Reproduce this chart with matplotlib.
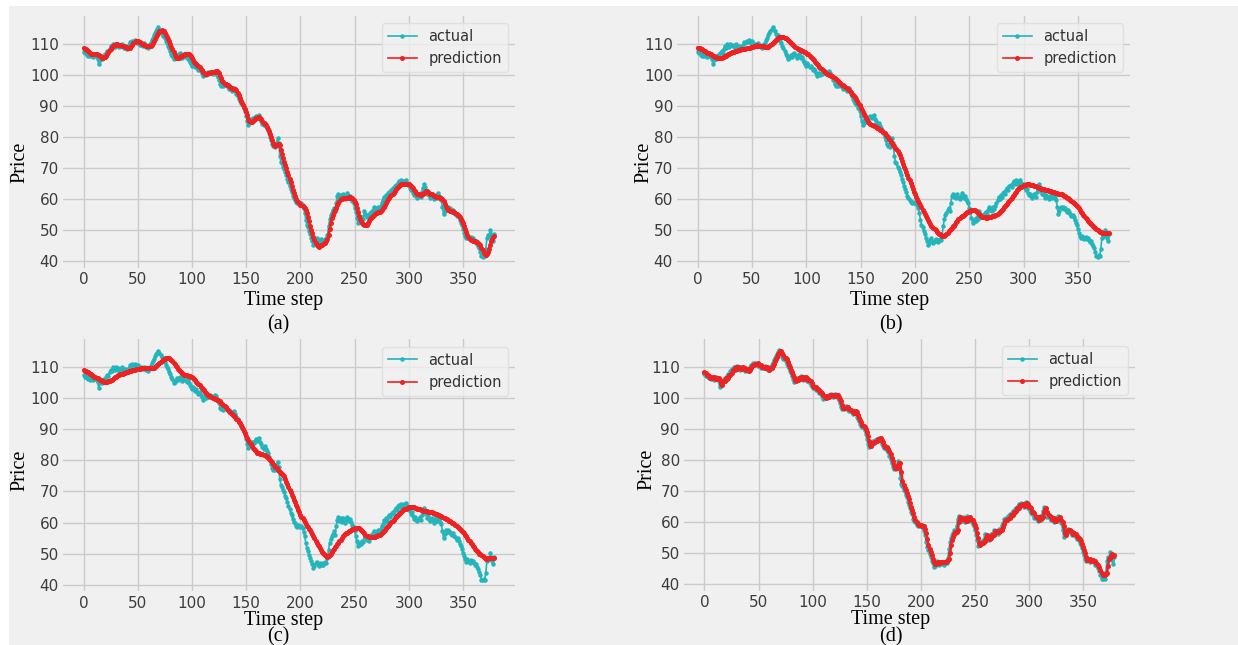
import numpy as np
import matplotlib.pyplot as plt
from matplotlib.patches import Rectangle
from matplotlib import font_manager

# Исходные данные: фактическая цена и прогнозы четырёх моделей
actual = [
    107.5, 107.0, 107.3, 106.5, 106.2, 106.8, 106.0, 106.4, 106.6, 105.8,
    106.2, 106.5, 105.9, 105.2, 103.4, 104.8, 105.5, 105.0, 106.0, 106.3,
    105.8, 107.0, 107.6, 107.2, 108.5, 109.2, 108.7, 110.0, 109.6, 109.0,
    110.1, 109.5, 109.8, 108.9, 109.6, 110.0, 109.2, 108.7, 109.3, 108.8,
    108.5, 109.2, 109.8, 110.6, 110.2, 111.0, 110.5, 111.2, 110.8, 110.3,
    110.9, 110.2, 109.6, 110.1, 109.7, 109.4, 110.2, 109.6, 109.1, 108.8,
    109.5, 109.9, 110.4, 111.3, 112.0, 112.8, 113.5, 114.2, 114.7, 115.3,
    114.6, 114.0, 113.2, 112.5, 112.9, 111.8, 110.9, 110.2, 109.4, 108.6,
    107.8, 106.9, 106.1, 105.0, 105.4, 105.9, 106.4, 105.8, 106.6, 107.0,
    106.3, 105.6, 106.2, 106.8, 106.0, 105.3, 105.8, 104.9, 104.2, 103.6,
    103.0, 103.8, 103.1, 102.4, 102.9, 102.2, 101.5, 102.0, 101.2, 100.5,
    99.6, 100.2, 100.6, 100.0, 100.4, 100.9, 100.5, 101.1, 100.6, 100.2,
    100.8, 101.2, 100.7, 99.9, 99.2, 98.4, 97.0, 96.5, 96.9, 96.4,
    96.8, 97.2, 96.6, 96.1, 95.6, 96.0, 95.4, 94.8, 95.3, 95.8,
    94.9, 93.9, 93.2, 92.4, 91.6, 91.0, 90.6, 90.2, 89.5, 88.4,
    86.8, 85.2, 84.0, 84.6, 85.8, 85.2, 86.0, 85.5, 86.3, 86.8,
    86.2, 86.9, 87.1, 85.9, 85.2, 84.3, 83.8, 84.5, 83.6, 83.0,
    82.4, 81.2, 80.1, 78.9, 77.6, 77.0, 77.4, 76.9, 78.2, 79.6,
    78.0, 74.0, 72.1, 71.5, 70.4, 69.8, 68.6, 67.9, 66.5, 65.4,
    64.3, 63.2, 62.4, 61.0, 60.2, 59.8, 59.0, 58.7, 59.2, 58.8,
    58.6, 58.9, 58.1, 57.0, 55.6, 53.4, 51.8, 50.9, 49.6, 48.7,
    47.5, 46.6, 45.3, 45.9, 46.8, 47.4, 46.5, 46.0, 46.6, 47.1,
    46.4, 46.2, 46.9, 47.3, 46.8, 48.5, 51.2, 53.5, 54.8, 55.6,
    56.4, 57.2, 56.1, 58.8, 60.9, 61.8, 60.6, 61.3, 60.2, 61.6,
    60.8, 59.9, 60.7, 61.9, 61.2, 60.4, 61.0, 60.1, 59.3, 58.6,
    57.2, 55.8, 54.0, 52.3, 52.8, 53.5, 53.0, 54.2, 53.6, 56.2,
    55.1, 54.3, 55.0, 54.1, 55.4, 56.0, 55.2, 56.5, 57.3, 56.4,
    57.0, 56.2, 57.6, 56.9, 57.8, 58.9, 59.6, 60.8, 60.1, 61.3,
    60.6, 61.9, 62.4, 61.7, 62.9, 63.5, 62.8, 64.1, 64.6, 63.9,
    65.2, 65.8, 65.0, 66.1, 65.4, 64.8, 65.9, 66.3, 65.2, 64.4,
    64.9, 63.6, 62.8, 63.4, 62.1, 61.2, 61.8, 60.9, 60.4, 61.1,
    61.8, 60.7, 62.3, 63.6, 64.8, 63.9, 62.6, 61.5, 62.0, 61.2,
    60.5, 61.4, 60.8, 59.9, 60.6, 61.3, 60.4, 61.9, 61.0, 60.2,
    59.6, 57.4, 55.1, 56.2, 57.5, 57.0, 57.6, 56.8, 57.1, 56.4,
    55.9, 56.6, 55.8, 55.2, 54.5, 55.0, 54.1, 53.2, 52.4, 51.6,
    50.3, 49.2, 48.1, 47.4, 48.2, 47.6, 47.1, 47.8, 47.3, 47.6,
    46.9, 46.2, 46.6, 45.7, 45.0, 44.1, 43.0, 41.6, 41.5, 41.9,
    41.6, 43.8, 47.5, 48.6, 48.1, 50.2, 48.9, 47.6, 46.5, 48.8,
]

pred_a = [
    108.7, 108.5, 108.2, 107.9, 107.6, 107.3, 107.0, 106.8, 106.7, 106.7,
    106.7, 106.6, 106.6, 106.5, 106.3, 106.0, 105.7, 105.6, 105.6, 105.7,
    105.9, 106.2, 106.7, 107.3, 107.9, 108.5, 109.0, 109.4, 109.7, 109.8,
    109.9, 109.9, 109.8, 109.7, 109.5, 109.4, 109.4, 109.3, 109.1, 108.9,
    108.7, 108.6, 108.6, 108.8, 109.3, 109.8, 110.3, 110.6, 110.8, 110.8,
    110.8, 110.7, 110.5, 110.2, 110.0, 109.9, 109.8, 109.6, 109.4, 109.3,
    109.2, 109.2, 109.4, 109.8, 110.3, 110.9, 111.6, 112.3, 113.0, 113.6,
    114.0, 114.3, 114.4, 114.3, 114.0, 113.6, 113.0, 112.3, 111.5, 110.8,
    110.0, 109.1, 108.2, 107.3, 106.5, 105.9, 105.5, 105.4, 105.5, 105.7,
    106.0, 106.2, 106.3, 106.4, 106.6, 106.8, 106.9, 106.8, 106.5, 106.0,
    105.4, 104.8, 104.3, 103.9, 103.6, 103.2, 102.8, 102.4, 102.0, 101.6,
    101.1, 100.6, 100.3, 100.3, 100.4, 100.5, 100.6, 100.7, 100.8, 100.9,
    101.0, 101.1, 101.2, 101.2, 101.0, 100.5, 99.8, 99.0, 98.2, 97.6,
    97.2, 97.0, 96.8, 96.7, 96.5, 96.2, 95.9, 95.7, 95.6, 95.5,
    95.4, 95.0, 94.3, 93.4, 92.5, 91.7, 91.0, 90.4, 89.7, 88.9,
    88.0, 87.0, 85.9, 85.1, 84.8, 84.9, 85.2, 85.5, 85.7, 86.0,
    86.2, 86.3, 86.3, 86.1, 85.7, 85.1, 84.5, 84.1, 83.8, 83.3,
    82.6, 81.8, 80.9, 80.0, 79.0, 78.0, 77.4, 77.2, 77.3, 77.6,
    77.8, 77.3, 75.9, 74.4, 73.2, 72.1, 71.0, 69.9, 68.8, 67.7,
    66.6, 65.4, 64.2, 63.0, 61.9, 60.9, 60.1, 59.5, 59.0, 58.6,
    58.2, 58.0, 57.8, 57.6, 57.2, 56.5, 55.4, 54.1, 52.8, 51.4,
    50.2, 49.0, 47.8, 46.7, 45.8, 45.1, 44.8, 44.7, 44.9, 45.1,
    45.3, 45.5, 45.8, 46.0, 46.5, 47.2, 48.5, 50.4, 52.3, 53.8,
    54.9, 55.8, 56.5, 57.2, 58.0, 58.8, 59.5, 59.9, 60.1, 60.3,
    60.4, 60.4, 60.3, 60.4, 60.5, 60.6, 60.6, 60.5, 60.2, 59.8,
    59.2, 58.3, 57.2, 56.0, 54.7, 53.6, 52.8, 52.4, 52.1, 51.8,
    51.6, 51.8, 52.4, 53.0, 53.6, 54.0, 54.3, 54.6, 54.9, 55.2,
    55.4, 55.6, 55.8, 56.0, 56.3, 56.6, 57.0, 57.5, 58.1, 58.7,
    59.3, 59.9, 60.4, 60.9, 61.3, 61.7, 62.1, 62.6, 63.1, 63.5,
    63.9, 64.3, 64.6, 64.8, 64.9, 64.9, 64.9, 65.0, 65.0, 64.9,
    64.8, 64.6, 64.3, 63.9, 63.5, 63.0, 62.5, 62.0, 61.7, 61.5,
    61.4, 61.4, 61.5, 61.7, 62.0, 62.4, 62.6, 62.6, 62.4, 62.1,
    61.8, 61.5, 61.3, 61.1, 60.9, 60.8, 60.7, 60.6, 60.6, 60.4,
    60.2, 60.0, 59.4, 58.4, 57.6, 57.0, 56.6, 56.4, 56.3, 56.2,
    56.1, 56.0, 55.8, 55.6, 55.3, 55.0, 54.6, 54.2, 53.7, 53.1,
    52.4, 51.5, 50.4, 49.3, 48.5, 47.9, 47.3, 46.9, 46.7, 46.6,
    46.5, 46.4, 46.3, 46.1, 45.9, 45.6, 45.1, 44.3, 43.5, 42.8,
    42.3, 42.1, 42.2, 42.9, 44.0, 45.3, 46.4, 47.2, 47.8, 48.1,
]

pred_b = [
    108.8, 108.7, 108.6, 108.4, 108.2, 108.0, 107.8, 107.6, 107.4, 107.2,
    107.0, 106.8, 106.6, 106.4, 106.2, 106.0, 105.9, 105.7, 105.6, 105.5,
    105.4, 105.5, 105.6, 105.7, 105.9, 106.0, 106.2, 106.4, 106.6, 106.8,
    107.0, 107.2, 107.3, 107.5, 107.6, 107.7, 107.8, 107.9, 108.0, 108.1,
    108.2, 108.3, 108.3, 108.4, 108.5, 108.6, 108.6, 108.7, 108.8, 108.9,
    109.0, 109.1, 109.2, 109.3, 109.4, 109.5, 109.4, 109.4, 109.3, 109.3,
    109.2, 109.2, 109.1, 109.1, 109.0, 109.1, 109.3, 109.6, 109.9, 110.2,
    110.6, 111.0, 111.4, 111.7, 112.0, 112.2, 112.3, 112.3, 112.3, 112.2,
    112.0, 111.8, 111.5, 111.2, 110.9, 110.6, 110.3, 110.0, 109.7, 109.4,
    109.1, 108.8, 108.5, 108.3, 108.1, 107.9, 107.8, 107.6, 107.5, 107.4,
    107.2, 106.9, 106.6, 106.2, 105.9, 105.5, 105.1, 104.7, 104.3, 103.9,
    103.5, 103.1, 102.7, 102.3, 101.9, 101.5, 101.2, 100.9, 100.7, 100.4,
    100.2, 100.0, 99.9, 99.7, 99.5, 99.3, 99.0, 98.7, 98.4, 98.1,
    97.8, 97.5, 97.2, 96.9, 96.6, 96.3, 96.0, 95.7, 95.4, 95.1,
    94.8, 94.4, 94.0, 93.6, 93.2, 92.8, 92.2, 91.6, 91.0, 90.3,
    89.5, 88.8, 88.1, 87.4, 86.7, 86.0, 85.5, 85.0, 84.6, 84.3,
    84.0, 83.8, 83.6, 83.4, 83.2, 83.0, 82.8, 82.6, 82.4, 82.2,
    82.0, 81.6, 81.2, 80.8, 80.4, 80.0, 79.5, 79.0, 78.5, 78.0,
    77.5, 77.0, 76.5, 76.0, 75.5, 75.0, 74.1, 73.2, 72.3, 71.4,
    70.5, 69.6, 68.7, 67.8, 66.9, 66.0, 65.1, 64.2, 63.3, 62.4,
    61.5, 60.8, 60.1, 59.4, 58.7, 58.0, 57.3, 56.6, 55.9, 55.2,
    54.5, 53.9, 53.3, 52.7, 52.1, 51.5, 51.1, 50.7, 50.3, 49.9,
    49.5, 49.2, 48.9, 48.7, 48.4, 48.2, 48.1, 48.2, 48.5, 48.8,
    49.2, 49.6, 50.0, 50.4, 50.8, 51.2, 51.5, 52.0, 52.5, 53.0,
    53.5, 53.8, 54.1, 54.4, 54.7, 55.0, 55.3, 55.5, 55.8, 56.0,
    56.2, 56.3, 56.4, 56.5, 56.5, 56.4, 56.2, 55.9, 55.5, 55.1,
    54.8, 54.5, 54.3, 54.2, 54.1, 54.0, 54.0, 54.1, 54.1, 54.2,
    54.3, 54.4, 54.5, 54.7, 54.8, 55.0, 55.3, 55.6, 55.9, 56.2,
    56.5, 56.9, 57.3, 57.7, 58.1, 58.5, 59.0, 59.5, 60.0, 60.5,
    61.0, 61.4, 61.9, 62.3, 62.8, 63.2, 63.5, 63.8, 64.0, 64.3,
    64.5, 64.6, 64.7, 64.8, 64.8, 64.8, 64.7, 64.6, 64.5, 64.4,
    64.3, 64.1, 64.0, 63.8, 63.7, 63.5, 63.4, 63.3, 63.2, 63.1,
    63.0, 62.9, 62.8, 62.7, 62.6, 62.5, 62.4, 62.3, 62.2, 62.1,
    62.0, 61.9, 61.8, 61.7, 61.6, 61.5, 61.3, 61.1, 60.9, 60.7,
    60.5, 60.2, 59.9, 59.6, 59.3, 59.0, 58.7, 58.4, 58.1, 57.8,
    57.5, 57.0, 56.5, 56.0, 55.5, 55.0, 54.5, 54.0, 53.5, 53.0,
    52.5, 52.2, 51.9, 51.6, 51.3, 51.0, 50.7, 50.4, 50.1, 49.8,
    49.5, 49.3, 49.1, 49.0, 49.0, 49.0, 49.0, 49.0, 49.0, 49.0,
]

pred_c = [
    109.1, 108.9, 108.8, 108.6, 108.4, 108.2, 108.0, 107.7, 107.5, 107.2,
    107.0, 106.8, 106.6, 106.4, 106.2, 106.0, 105.8, 105.6, 105.5, 105.4,
    105.3, 105.3, 105.4, 105.5, 105.6, 105.8, 106.0, 106.3, 106.5, 106.8,
    107.0, 107.2, 107.4, 107.6, 107.7, 107.9, 108.0, 108.2, 108.3, 108.4,
    108.5, 108.6, 108.7, 108.8, 108.9, 109.0, 109.1, 109.2, 109.3, 109.4,
    109.5, 109.6, 109.6, 109.7, 109.7, 109.8, 109.8, 109.8, 109.8, 109.8,
    109.8, 109.7, 109.7, 109.7, 109.7, 109.7, 110.0, 110.4, 110.8, 111.1,
    111.5, 111.8, 112.1, 112.4, 112.6, 112.8, 112.9, 113.0, 113.0, 112.9,
    112.6, 112.3, 112.0, 111.5, 111.0, 110.5, 110.0, 109.5, 109.1, 108.8,
    108.4, 108.1, 107.8, 107.6, 107.5, 107.4, 107.3, 107.2, 107.1, 107.0,
    107.0, 106.6, 106.2, 105.8, 105.4, 105.0, 104.6, 104.2, 103.8, 103.4,
    103.0, 102.6, 102.2, 101.8, 101.4, 101.0, 100.8, 100.6, 100.4, 100.2,
    100.0, 99.9, 99.8, 99.6, 99.5, 99.3, 99.0, 98.6, 98.3, 97.9,
    97.5, 97.1, 96.7, 96.3, 95.9, 95.5, 95.2, 94.9, 94.6, 94.3,
    94.0, 93.5, 93.0, 92.5, 92.0, 91.5, 90.8, 90.1, 89.4, 88.7,
    88.0, 87.3, 86.6, 85.9, 85.2, 84.5, 84.1, 83.7, 83.3, 82.9,
    82.5, 82.4, 82.3, 82.2, 82.1, 82.0, 81.8, 81.6, 81.4, 81.2,
    81.0, 80.6, 80.2, 79.8, 79.4, 79.0, 78.5, 78.0, 77.5, 77.0,
    76.5, 76.2, 75.9, 75.6, 75.3, 75.0, 74.1, 73.2, 72.3, 71.4,
    70.5, 69.7, 68.9, 68.1, 67.3, 66.5, 65.7, 64.9, 64.1, 63.3,
    62.5, 61.9, 61.3, 60.7, 60.1, 59.5, 59.0, 58.5, 58.0, 57.5,
    57.0, 56.3, 55.6, 54.9, 54.2, 53.5, 52.9, 52.3, 51.7, 51.1,
    50.5, 50.2, 49.8, 49.5, 49.1, 48.8, 49.2, 49.6, 50.0, 50.5,
    51.0, 51.5, 52.0, 52.5, 53.0, 53.5, 54.0, 54.5, 55.0, 55.5,
    56.0, 56.2, 56.5, 56.7, 57.0, 57.2, 57.4, 57.6, 57.8, 58.0,
    58.2, 58.3, 58.3, 58.3, 58.1, 57.8, 57.5, 57.2, 56.8, 56.5,
    56.1, 55.8, 55.5, 55.4, 55.3, 55.2, 55.2, 55.2, 55.3, 55.4,
    55.5, 55.7, 55.9, 56.1, 56.3, 56.5, 56.9, 57.3, 57.7, 58.1,
    58.5, 58.9, 59.3, 59.7, 60.1, 60.5, 60.9, 61.3, 61.7, 62.1,
    62.5, 62.8, 63.1, 63.4, 63.7, 64.0, 64.2, 64.4, 64.6, 64.8,
    65.0, 65.0, 65.0, 65.0, 65.0, 65.0, 64.8, 64.7, 64.5, 64.4,
    64.2, 64.1, 64.0, 63.8, 63.7, 63.6, 63.6, 63.6, 63.5, 63.5,
    63.5, 63.4, 63.2, 63.1, 62.9, 62.8, 62.6, 62.5, 62.3, 62.2,
    62.0, 61.8, 61.6, 61.4, 61.2, 61.0, 60.8, 60.6, 60.4, 60.2,
    60.0, 59.7, 59.4, 59.1, 58.8, 58.5, 58.2, 57.9, 57.6, 57.3,
    57.0, 56.5, 56.0, 55.5, 55.0, 54.5, 54.0, 53.5, 53.0, 52.5,
    52.0, 51.6, 51.2, 50.8, 50.4, 50.0, 49.7, 49.4, 49.1, 48.8,
    48.5, 48.4, 48.4, 48.5, 48.5, 48.5, 48.6, 48.6, 48.7, 48.7,
]

pred_d = [
    108.2, 107.8, 107.3, 107.2, 106.9, 106.4, 106.5, 106.4, 106.2, 106.5,
    106.2, 106.0, 106.4, 106.2, 105.6, 104.3, 104.1, 105.2, 105.3, 105.5,
    106.2, 106.1, 106.4, 107.3, 107.4, 107.9, 108.9, 109.0, 109.4, 109.8,
    109.3, 109.6, 109.8, 109.7, 109.4, 109.3, 109.8, 109.6, 109.0, 109.0,
    109.1, 108.7, 108.9, 109.5, 110.2, 110.4, 110.6, 110.8, 110.9, 111.0,
    110.6, 110.6, 110.6, 109.9, 109.9, 109.9, 109.6, 109.8, 109.9, 109.4,
    109.0, 109.2, 109.7, 110.2, 110.9, 111.7, 112.4, 113.2, 113.9, 114.5,
    115.0, 115.0, 114.3, 113.6, 112.9, 112.7, 112.4, 111.4, 110.6, 109.8,
    109.0, 108.2, 107.4, 106.5, 105.6, 105.2, 105.7, 106.2, 106.1, 106.2,
    106.8, 106.7, 106.0, 105.9, 106.5, 106.4, 105.7, 105.6, 105.4, 104.6,
    103.9, 103.3, 103.4, 103.5, 102.8, 102.7, 102.6, 101.9, 101.8, 101.6,
    100.9, 100.1, 99.9, 100.4, 100.3, 100.2, 100.7, 100.7, 100.8, 100.9,
    100.4, 100.5, 101.0, 101.0, 100.3, 99.6, 98.8, 97.7, 96.8, 96.7,
    96.7, 96.6, 97.0, 96.9, 96.4, 95.9, 95.8, 95.7, 95.1, 95.1,
    95.6, 95.4, 94.4, 93.6, 92.8, 92.0, 91.3, 90.8, 90.4, 89.9,
    89.0, 87.6, 86.0, 84.6, 84.3, 85.2, 85.5, 85.6, 85.8, 85.9,
    86.6, 86.5, 86.6, 87.0, 86.5, 85.6, 84.8, 84.1, 84.2, 84.1,
    83.3, 82.7, 81.8, 80.7, 79.5, 78.3, 77.3, 77.2, 77.2, 77.6,
    78.9, 78.8, 76.0, 73.1, 71.8, 71.0, 70.1, 69.2, 68.3, 67.2,
    66.0, 64.9, 63.8, 62.8, 61.7, 60.6, 60.0, 59.4, 58.9, 59.0,
    59.0, 58.7, 58.8, 58.5, 57.6, 56.3, 54.5, 52.6, 51.4, 50.3,
    49.2, 48.1, 47.1, 46.4, 46.5, 46.8, 47.1, 47.0, 46.8, 46.9,
    47.1, 47.0, 46.9, 47.1, 47.4, 47.6, 48.0, 49.9, 52.4, 54.2,
    55.2, 56.0, 56.8, 56.7, 57.5, 59.9, 61.4, 61.2, 61.0, 60.8,
    60.9, 61.2, 60.4, 60.3, 61.3, 61.6, 60.8, 60.7, 60.6, 59.7,
    59.0, 57.9, 56.5, 54.9, 53.2, 52.6, 53.2, 53.3, 53.6, 53.9,
    54.9, 55.7, 54.7, 54.7, 54.6, 54.8, 55.7, 55.6, 55.9, 56.9,
    56.9, 56.7, 56.6, 56.9, 57.3, 57.4, 58.4, 59.3, 60.2, 60.5,
    60.7, 61.0, 61.3, 62.2, 62.1, 62.3, 63.2, 63.2, 63.5, 64.4,
    64.3, 64.6, 65.5, 65.4, 65.6, 65.8, 65.1, 65.4, 66.1, 65.8,
    64.8, 64.7, 64.3, 63.2, 63.1, 62.8, 61.7, 61.5, 61.4, 60.7,
    60.8, 61.5, 61.3, 61.5, 63.0, 64.2, 64.4, 63.3, 62.1, 61.8,
    61.6, 60.9, 61.0, 61.1, 60.4, 60.3, 61.0, 60.9, 61.2, 61.5,
    60.6, 59.9, 58.5, 56.3, 55.7, 56.9, 57.3, 57.3, 57.2, 57.0,
    56.8, 56.2, 56.3, 56.2, 55.5, 54.9, 54.8, 54.6, 53.7, 52.8,
    52.0, 51.0, 49.8, 48.7, 47.8, 47.8, 47.9, 47.4, 47.5, 47.6,
    47.5, 47.3, 46.6, 46.4, 46.2, 45.4, 44.6, 43.6, 42.8, 42.9,
    43.0, 43.2, 43.6, 45.7, 48.1, 48.4, 49.2, 49.6, 49.0, 49.3,
]

panel_labels = ['(a)', '(b)', '(c)', '(d)']
predictions = [pred_a, pred_b, pred_c, pred_d]
time_step = np.arange(len(actual))

bg = '#f0f0f0'
teal = '#22b5bb'
red = '#ee2222'
serif = ['Liberation Serif', 'DejaVu Serif']

# узкий шрифт для подписей делений и легенды, если он есть
names = {f.name for f in font_manager.fontManager.ttflist}
narrow = 'Liberation Sans Narrow' if 'Liberation Sans Narrow' in names else 'DejaVu Sans'

fig = plt.figure(figsize=(12.38, 6.45), dpi=100, facecolor='white')
# светло-серая подложка с белой полоской сверху и слева
fig.patches.append(Rectangle((9 / 1238, 0), 1, 1 - 6 / 645, transform=fig.transFigure,
                             facecolor=bg, edgecolor='none', zorder=-10))

# [left, bottom, width, height]; positions of labels in axes fraction
boxes = [
    [0.0509, 0.5845, 0.3651, 0.3907],
    [0.5469, 0.5845, 0.3659, 0.3907],
    [0.0509, 0.0831, 0.3651, 0.3907],
    [0.5525, 0.0842, 0.3643, 0.3907],
]
ylab_pos = [(-0.095, 0.42), (-0.074, 0.42), (-0.095, 0.48), (-0.082, 0.48)]
xlab_pos = [(0.487, -0.127), (0.470, -0.127), (0.487, -0.114), (0.457, -0.116)]
sub_pos = [(0.476, -0.226), (0.472, -0.226), (0.476, -0.181), (0.459, -0.184)]

for i in range(4):
    ax = fig.add_axes(boxes[i])
    ax.set_facecolor(bg)
    ax.plot(time_step, actual, color=teal, lw=1.2, marker='o', ms=2.2, label='actual')
    ax.plot(time_step, predictions[i], color=red, lw=1.8, marker='o', ms=2.6, label='prediction')

    ax.set_xticks([0, 50, 100, 150, 200, 250, 300, 350])
    ax.set_yticks([40, 50, 60, 70, 80, 90, 100, 110])
    ax.grid(True, color='#cbcbcb', lw=1.0)
    ax.set_axisbelow(True)
    for s in ax.spines.values():
        s.set_visible(False)
    ax.tick_params(length=0, labelsize=11, labelcolor='#3c3c3c', pad=3)
    for lab in ax.get_xticklabels() + ax.get_yticklabels():
        lab.set_family(narrow)

    ax.set_ylabel('Price', family=serif, fontsize=14.5, va='center')
    ax.yaxis.set_label_coords(*ylab_pos[i])
    ax.set_xlabel('Time step', family=serif, fontsize=14.5, va='center')
    ax.xaxis.set_label_coords(*xlab_pos[i])
    ax.text(sub_pos[i][0], sub_pos[i][1], panel_labels[i], transform=ax.transAxes,
            ha='center', va='center', family=serif, fontsize=14.5)

    leg = ax.legend(loc='upper right', prop={'family': narrow, 'size': 10.5}, frameon=True,
                    fancybox=True, handlelength=2.0, borderaxespad=0.5)
    leg.get_frame().set_facecolor(bg)
    leg.get_frame().set_edgecolor('#dcdcdc')
    for t in leg.get_texts():
        t.set_color('#333333')
    for h in leg.get_lines():
        h.set_linewidth(1.2)

fig.savefig('out.png', dpi=100, facecolor=fig.get_facecolor())
